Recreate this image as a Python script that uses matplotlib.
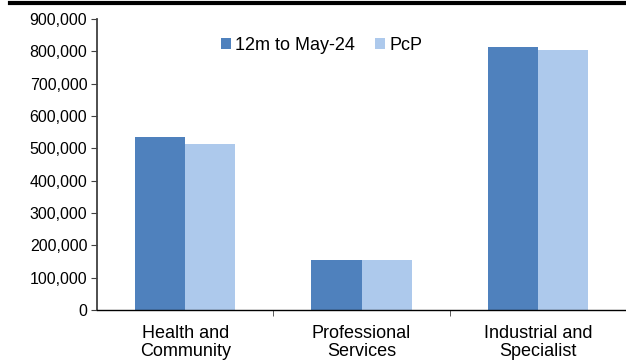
import numpy as np
import matplotlib.pyplot as plt
from matplotlib.lines import Line2D
from matplotlib.ticker import FuncFormatter

# sector volumes, current year vs prior period
categories = ['Health and\nCommunity', 'Professional\nServices', 'Industrial and\nSpecialist']
current = [535000, 156000, 813000]
prior = [513000, 156000, 804000]

plt.rcParams['font.family'] = ['Liberation Sans', 'DejaVu Sans']

fig = plt.figure(figsize=(6.26, 3.63), dpi=100)
ax = fig.add_axes([0.155, 0.146, 0.845, 0.802])

x = np.arange(len(categories))
w = 0.285
ax.bar(x - w / 2, current, w, color='#4f81bd', label='12m to May-24')
ax.bar(x + w / 2, prior, w, color='#adc9ec', label='PcP')

ax.set_xlim(-0.5, 2.5)
ax.set_ylim(0, 900000)
ax.set_yticks(np.arange(0, 900001, 100000))
ax.yaxis.set_major_formatter(FuncFormatter(lambda v, p: f'{int(v):,}'))
ax.set_xticks(x)
ax.set_xticklabels(categories, fontsize=13, linespacing=1.08)
ax.set_xticks([0.5, 1.5], minor=True)
ax.tick_params(axis='x', which='major', length=0, pad=11)
ax.tick_params(axis='x', which='minor', length=4, direction='out', color='#404040')
ax.tick_params(axis='y', length=4, direction='out', labelsize=11.5, color='#404040', pad=3)

for s in ['top', 'right']:
    ax.spines[s].set_visible(False)
ax.spines['left'].set_color('#404040')
ax.spines['left'].set_linewidth(1.3)
ax.spines['bottom'].set_color('black')
ax.spines['bottom'].set_linewidth(1.0)

ax.legend(loc='upper center', bbox_to_anchor=(0.425, 0.995), ncol=2, frameon=False,
          fontsize=13, handlelength=0.55, handleheight=0.55, handletextpad=0.25,
          columnspacing=1.1)

# heavy rule across the top
fig.add_artist(Line2D([0.016, 1.0], [0.992, 0.992], color='black', linewidth=3,
                      transform=fig.transFigure))

fig.savefig('out.png', dpi=100)
